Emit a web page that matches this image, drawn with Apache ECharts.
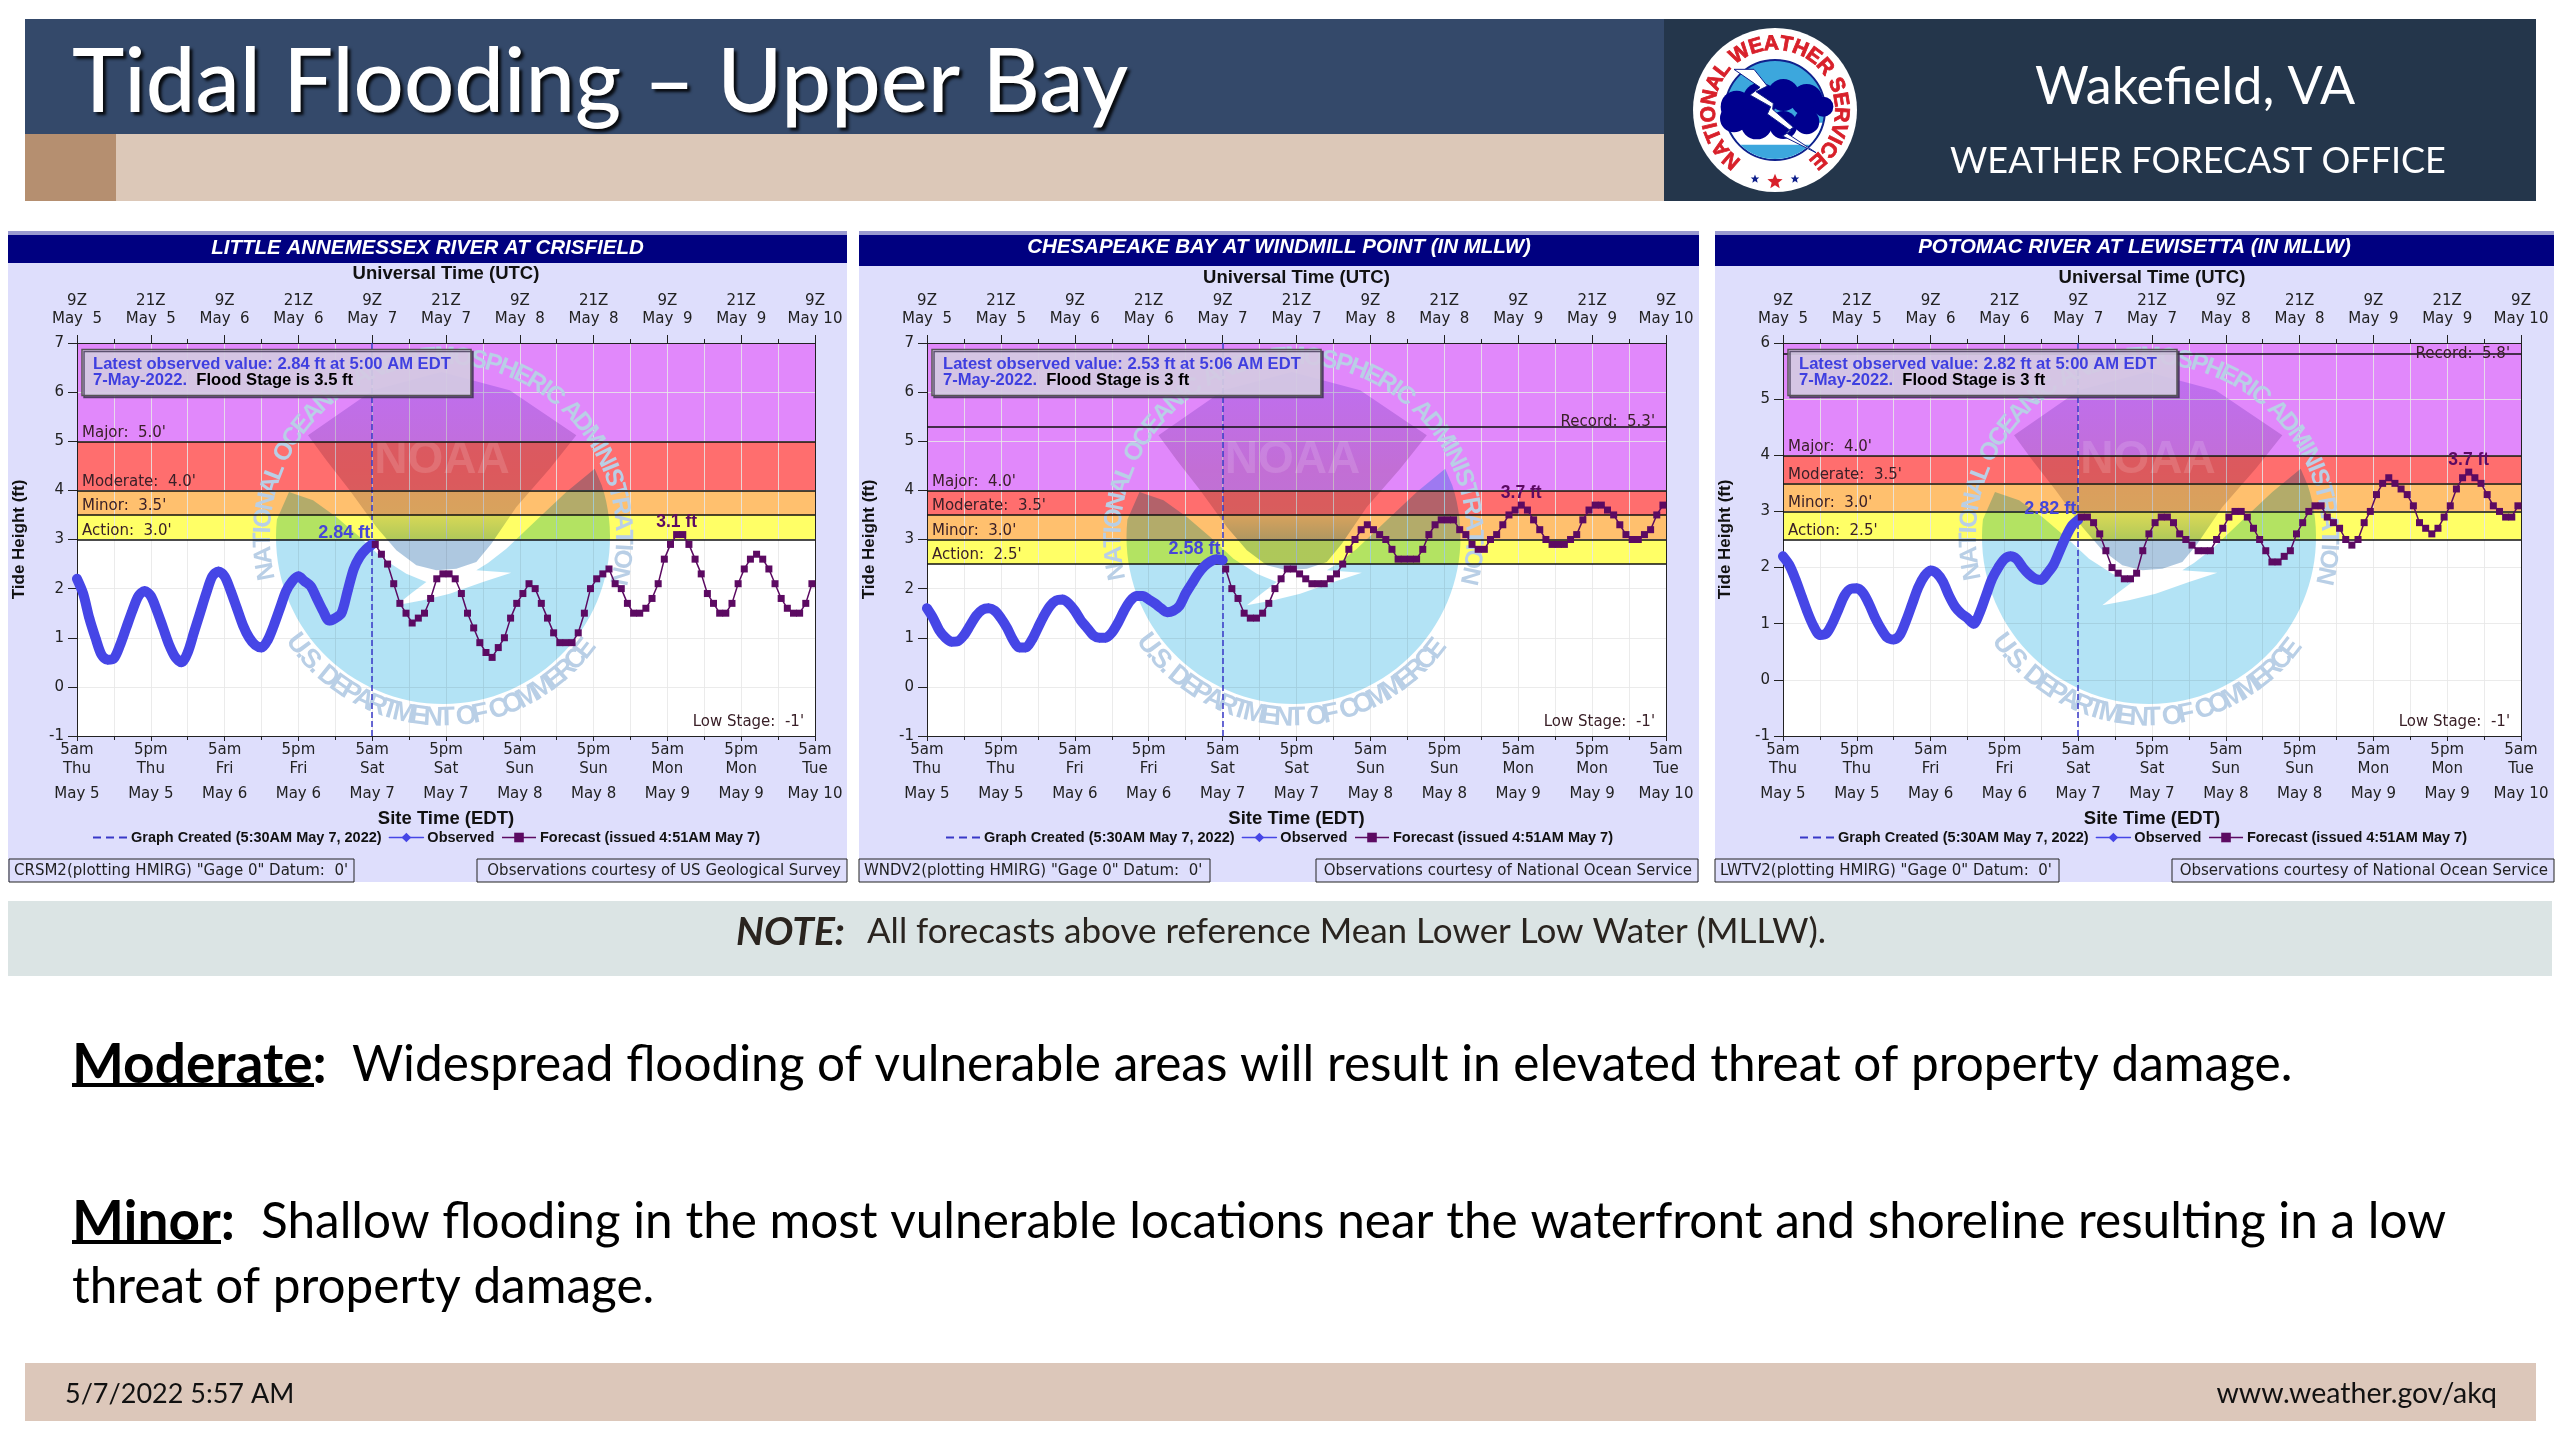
<!DOCTYPE html>
<html><head><meta charset="utf-8">
<style>html,body{margin:0;padding:0;background:#fff}#c{width:2560px;height:1440px}</style>
<script src="https://cdn.jsdelivr.net/npm/echarts@6/dist/echarts.min.js"></script>
</head><body><div id="c"></div>
<script>
// ---- data ----
const observedHours=[0,1,2,3,4,5,6,7,8,9,10,11,12,13,14,15,16,17,18,19,20,21,22,23,24,25,26,27,28,29,30,31,32,33,34,35,36,37,38,39,40,41,42,43,44,45,46,47,48];
const forecastHours=[48.5,49.5,50.5,51.5,52.5,53.5,54.5,55.5,56.5,57.5,58.5,59.5,60.5,61.5,62.5,63.5,64.5,65.5,66.5,67.5,68.5,69.5,70.5,71.5,72.5,73.5,74.5,75.5,76.5,77.5,78.5,79.5,80.5,81.5,82.5,83.5,84.5,85.5,86.5,87.5,88.5,89.5,90.5,91.5,92.5,93.5,94.5,95.5,96.5,97.5,98.5,99.5,100.5,101.5,102.5,103.5,104.5,105.5,106.5,107.5,108.5,109.5,110.5,111.5,112.5,113.5,114.5,115.5,116.5,117.5,118.5,119.5];

const observedCrisfield=[2.2,1.9,1.4,1.0,0.65,0.55,0.58,0.85,1.2,1.55,1.85,1.95,1.85,1.55,1.2,0.85,0.6,0.5,0.7,1.1,1.5,1.9,2.25,2.35,2.25,1.95,1.6,1.25,1.0,0.85,0.8,0.95,1.25,1.6,1.95,2.15,2.25,2.15,2.05,1.8,1.55,1.35,1.4,1.5,1.95,2.4,2.65,2.8,2.9];
const observedWindmill=[1.6,1.4,1.15,1.0,0.92,0.93,1.05,1.25,1.45,1.57,1.6,1.55,1.4,1.2,0.95,0.8,0.8,0.95,1.2,1.45,1.65,1.76,1.78,1.7,1.55,1.35,1.2,1.05,1.0,1.0,1.1,1.3,1.55,1.75,1.85,1.85,1.78,1.7,1.6,1.52,1.55,1.65,1.9,2.1,2.3,2.45,2.55,2.6,2.58];
const observedLewisetta=[2.2,2.05,1.8,1.5,1.2,0.95,0.8,0.82,1.0,1.25,1.5,1.62,1.63,1.55,1.35,1.1,0.9,0.75,0.72,0.8,1.05,1.35,1.65,1.85,1.95,1.9,1.75,1.5,1.3,1.18,1.1,1.0,1.2,1.5,1.8,2.0,2.15,2.2,2.15,2.0,1.88,1.8,1.78,1.9,2.05,2.3,2.55,2.75,2.85];

const forecastCrisfield=[2.9,2.7,2.5,2.1,1.7,1.5,1.3,1.4,1.5,1.8,2.2,2.3,2.3,2.2,1.9,1.5,1.2,0.9,0.7,0.6,0.8,1.0,1.4,1.7,1.9,2.1,2.0,1.7,1.4,1.1,0.9,0.9,0.9,1.1,1.5,2.0,2.2,2.3,2.4,2.1,2.0,1.7,1.5,1.5,1.6,1.8,2.1,2.6,2.9,3.1,3.1,2.9,2.6,2.3,1.9,1.7,1.5,1.5,1.7,2.1,2.4,2.6,2.7,2.6,2.4,2.1,1.8,1.6,1.5,1.5,1.7,2.1];
const forecastWindmill=[2.4,2.0,1.8,1.5,1.4,1.4,1.5,1.7,2.0,2.2,2.4,2.4,2.3,2.2,2.1,2.1,2.1,2.2,2.3,2.5,2.8,3.0,3.2,3.3,3.2,3.1,3.0,2.8,2.6,2.6,2.6,2.6,2.8,3.1,3.3,3.4,3.4,3.4,3.2,3.1,2.9,2.8,2.8,3.0,3.1,3.3,3.5,3.6,3.7,3.6,3.4,3.2,3.0,2.9,2.9,2.9,3.0,3.1,3.4,3.6,3.7,3.7,3.6,3.5,3.3,3.1,3.0,3.0,3.1,3.2,3.5,3.7];
const forecastLewisetta=[2.9,2.9,2.8,2.6,2.3,2.0,1.9,1.8,1.8,1.9,2.3,2.6,2.8,2.9,2.9,2.8,2.6,2.5,2.4,2.3,2.3,2.3,2.5,2.7,2.9,3.0,3.0,2.9,2.7,2.5,2.3,2.1,2.1,2.2,2.3,2.6,2.8,3.0,3.1,3.1,2.9,2.8,2.7,2.5,2.4,2.5,2.8,3.0,3.3,3.5,3.6,3.5,3.4,3.3,3.1,2.8,2.7,2.6,2.7,2.9,3.1,3.4,3.6,3.7,3.6,3.5,3.3,3.1,3.0,2.9,2.9,3.1];

const stationTitles=["LITTLE ANNEMESSEX RIVER AT CRISFIELD","CHESAPEAKE BAY AT WINDMILL POINT (IN MLLW)","POTOMAC RIVER AT LEWISETTA (IN MLLW)"];
const yAxisMax=[7,7,6];
const actionStage=[3.0,2.5,2.5];
const minorStage=[3.5,3.0,3.0];
const moderateStage=[4.0,3.5,3.5];
const majorStage=[5.0,4.0,4.0];
const recordStage=[null,5.3,5.8];
const latestObserved=["2.84 ft at 5:00 AM EDT","2.53 ft at 5:06 AM EDT","2.82 ft at 5:00 AM EDT"];
const floodStageText=["Flood Stage is 3.5 ft","Flood Stage is 3 ft","Flood Stage is 3 ft"];
const observedCallout=["2.84 ft","2.58 ft","2.82 ft"];
const observedCalloutY=[2.9,2.58,2.85];
const forecastCallout=["3.1 ft","3.7 ft","3.7 ft"];
const forecastCalloutHour=[97.5,96.5,111.5];
const forecastCalloutY=[3.1,3.7,3.7];
const gageText=['CRSM2(plotting HMIRG) "Gage 0" Datum:  0\'','WNDV2(plotting HMIRG) "Gage 0" Datum:  0\'','LWTV2(plotting HMIRG) "Gage 0" Datum:  0\''];
const courtesyText=["Observations courtesy of US Geological Survey","Observations courtesy of National Ocean Service","Observations courtesy of National Ocean Service"];
const topTickLabels=["9Z\nMay  5","21Z\nMay  5","9Z\nMay  6","21Z\nMay  6","9Z\nMay  7","21Z\nMay  7","9Z\nMay  8","21Z\nMay  8","9Z\nMay  9","21Z\nMay  9","9Z\nMay 10"];
const bottomTickTimes=["5am","5pm","5am","5pm","5am","5pm","5am","5pm","5am","5pm","5am"];
const bottomTickDays=["Thu","Thu","Fri","Fri","Sat","Sat","Sun","Sun","Mon","Mon","Tue"];
const bottomTickDates=["May 5","May 5","May 6","May 6","May 7","May 7","May 8","May 8","May 9","May 9","May 10"];
const graphCreatedHour=48;
const legendCreated="Graph Created (5:30AM May 7, 2022)";
const legendObserved="Observed";
const legendForecast="Forecast (issued 4:51AM May 7)";

// ---- layout ----
const observedSeries=[observedCrisfield,observedWindmill,observedLewisetta];
const forecastSeries=[forecastCrisfield,forecastWindmill,forecastLewisetta];
const plotLeft=[77,927,1783], plotWidth=[738,739,738], plotTop=343, plotHeight=393;
const panelLeft=[8,859,1715], panelRight=[847,1699,2554];
const legendLeft=[88,941,1795];
const gageBox=[[9,354],[859,1210],[1715,2059]];
const courtesyBox=[[477,847],[1316,1698],[2172,2554]];
const barBottom=[263,266,266], barText=[248,247,247], utcGap=[60,56,56];

const SANS='"Liberation Sans",Arial,sans-serif', DJ='"DejaVu Sans",sans-serif', GILL='Lato,"Open Sans",sans-serif';
const Z=5, TXTZ=12;
const g=[];
const rect=(x,y,w,h,fill,z,extra)=>g.push(Object.assign({type:'rect',silent:true,z:z||0,shape:{x,y,width:w,height:h},style:{fill}},extra||{}));
const text=(x,y,t,font,fill,align,z,extraStyle)=>g.push({type:'text',silent:true,z:z||1,x,y,style:Object.assign({text:t,font,fill,align:align||'left',verticalAlign:'middle'},extraStyle||{})});
const arcPts=(cx,cy,r,a0,a1,n)=>{const p=[];for(let i=0;i<=n;i++){const a=(a0+(a1-a0)*i/n)*Math.PI/180;p.push([cx+r*Math.sin(a),cy-r*Math.cos(a)]);}return p;};
const mctx=document.createElement('canvas').getContext('2d');
function ring(str,cx,cy,r,th0,th1,font,fill,z,blend,bottom,extra){
  mctx.font=font;
  const ws=[...str].map(c=>mctx.measureText(c).width);
  const tot=ws.reduce((a,b)=>a+b,0);let acc=0;
  [...str].forEach((c,i)=>{
    const th=th0+(th1-th0)*(acc+ws[i]/2)/tot;acc+=ws[i];
    if(c===' ')return;
    const a=th*Math.PI/180;
    const rot=bottom?-(a-Math.PI):-a;
    const st=Object.assign({text:c,font,fill,align:'center',verticalAlign:'middle'},extra||{});
    if(blend)st.blend=blend;
    g.push({type:'text',silent:true,z,x:cx+r*Math.sin(a),y:cy-r*Math.cos(a),rotation:rot,style:st});
  });
}

// ---- slide furniture ----
rect(25,19,1640,115,'#34496a',0);
rect(25,134,1640,67,'#dcc8b8',0);
rect(25,134,91,67,'#b58f70',0);
rect(1664,19,872,182,'#24364b',0);
text(72,83,'Tidal Flooding – Upper Bay','500 88.5px '+GILL,'#ffffff','left',1,{textShadowColor:'rgba(0,0,0,0.85)',textShadowBlur:3,textShadowOffsetX:3,textShadowOffsetY:3});
text(2195,87,'Wakefield, VA','400 52px '+GILL,'#ffffff','center',1);
text(2198,161,'WEATHER FORECAST OFFICE','400 36px '+GILL,'#ffffff','center',1);
// NWS emblem
(function(){
  const cx=1775,cy=110,k=1/3,X=v=>cx+(v-345)*k,Y=v=>cy+(v-300)*k;
  g.push({type:'circle',silent:true,z:1,shape:{cx,cy,r:82},style:{fill:'#ffffff'}});
  g.push({type:'circle',silent:true,z:2,shape:{cx,cy,r:50},style:{fill:'#3ca7dd',stroke:'#10208c',lineWidth:2}});
  g.push({type:'polygon',silent:true,z:2,shape:{points:arcPts(cx,cy,49,105,255,24)},style:{fill:'#ffffff'}});
  g.push({type:'polygon',silent:true,z:2,shape:{points:arcPts(cx,cy,49,135,225,16)},style:{fill:'#3ca7dd'}});
  [[230,290,48],[300,270,52],[370,255,48],[440,270,48],[490,290,30],[222,325,42],[290,340,48],[370,345,42],[440,335,38]].forEach(c=>
    g.push({type:'circle',silent:true,z:3,shape:{cx:X(c[0]),cy:Y(c[1]),r:c[2]*k},style:{fill:'#00008e'}}));
  const bolt=[[222,178],[282,178],[322,228],[288,245],[340,280],[338,298],[400,352],[378,368],[468,428],[368,378],[392,362],[322,312],[332,290],[270,255],[300,232]];
  g.push({type:'polygon',silent:true,z:4,shape:{points:bolt.map(p=>[X(p[0]),Y(p[1])])},style:{fill:'#ffffff',stroke:'#10208c',lineWidth:1}});
  ring('NATIONAL WEATHER SERVICE',cx,cy,66,-146,146,'900 21px '+SANS,'#d8202a',5,null,false,{stroke:'#d8202a',lineWidth:0.8});
  g.push({type:'polygon',silent:true,z:5,shape:{points:[0,1,2,3,4,5,6,7,8,9].map(i=>{const r=i%2?3.5:8,a=i*36*Math.PI/180;return[cx+r*Math.sin(a),Y(515)-r*Math.cos(a)];})},style:{fill:'#d8202a'}});
  [-20,20].forEach(d=>g.push({type:'polygon',silent:true,z:5,shape:{points:[0,1,2,3,4,5,6,7,8,9].map(i=>{const r=i%2?2:4.5,a=i*36*Math.PI/180;return[cx+d+r*Math.sin(a),Y(507)-r*Math.cos(a)];})},style:{fill:'#10208c'}}));
})();

// note & body
rect(8,901,2544,75,'#dbe4e4',0);
text(736,932,'NOTE:','italic 700 39px '+GILL,'#2a241f','left',1);
text(867,932,'All forecasts above reference Mean Lower Low Water (MLLW).','400 35px '+GILL,'#2a241f','left',1);
text(72,1065,'Moderate:','700 55px '+GILL,'#000','left',1);
text(352,1065,'Widespread flooding of vulnerable areas will result in elevated threat of property damage.','400 49.5px '+GILL,'#000','left',1);
rect(72,1083,242,4,'#000',1);
text(72,1222,'Minor:','700 55px '+GILL,'#000','left',1);
text(261,1222,'Shallow flooding in the most vulnerable locations near the waterfront and shoreline resulting in a low','400 49.5px '+GILL,'#000','left',1);
rect(72,1240,149,4,'#000',1);
text(72,1287,'threat of property damage.','400 49.5px '+GILL,'#000','left',1);
rect(25,1363,2511,58,'#dcc7ba',0);
text(65,1394,'5/7/2022 5:57 AM','400 27px '+GILL,'#111','left',1);
text(2497,1394,'www.weather.gov/akq','400 28.5px '+GILL,'#111','right',1);

// ---- chart furniture per panel ----
function noaa(cx,cy){
  const L=p=>[cx+(p[0]-580)/3,cy+(p[1]-590)/3];
  const arc=arcPts(cx,cy,167,276,72,70);
  const blue=arc.concat([[1035,385],[950,455],[860,540],[770,625],[715,668],[680,690],[785,697],[700,725],[600,760],[520,780],[440,795],[490,755],[530,725],[470,700],[400,655],[330,590],[260,530],[190,480],[118,455]].map(L));
  g.push({type:'polygon',silent:true,z:Z,shape:{points:blue},style:{fill:'#b3e3f5',blend:'multiply'}});
  const dia=[[175,285],[370,150],[575,95],[780,150],[980,285],[900,385],[800,500],[725,610],[680,665],[620,685],[560,690],[500,675],[440,630],[380,560],[300,450],[230,360]].map(L);
  g.push({type:'polygon',silent:true,z:Z,shape:{points:dia},style:{blend:'multiply',fill:new echarts.graphic.LinearGradient(0,0,0,1,[{offset:0,color:'#d8cff6'},{offset:0.5,color:'#dccfd8'},{offset:0.72,color:'#d8d8d8'},{offset:0.85,color:'#aec8e0'},{offset:1,color:'#aec8e0'}])}});
  g.push({type:'text',silent:true,z:Z+1,x:cx-1,y:cy-77,style:{text:'NOAA',font:'700 46px '+SANS,fill:'rgba(255,255,255,0.14)',align:'center',verticalAlign:'middle'}});
  ring('NATIONAL OCEANIC AND ATMOSPHERIC ADMINISTRATION',cx,cy,180,-103.5,105,'700 25px '+SANS,'#b9cfe6',Z,'multiply',false);
  ring('U.S. DEPARTMENT OF COMMERCE',cx,cy,181,236,126,'700 27px '+SANS,'#b9cfe6',Z,'multiply',true);
}
stationTitles.forEach((t,i)=>{
  const pl=panelLeft[i],pr=panelRight[i];
  rect(pl,231,pr-pl,651,'#dedefc',-1);
  rect(pl,231,pr-pl,barBottom[i]-231,'#000080',-1);
  rect(pl,231,pr-pl,4,'#9a9ad0',-1);
  text((pl+pr)/2,barText[i],t,'italic 700 20.5px '+SANS,'#ffffff','center',1);
  noaa(plotLeft[i]+plotWidth[i]/2-3,plotTop+plotHeight/2-2.5);
  // info box
  const bx=plotLeft[i]+5,by=349.5,bw=389,bh=46;
  g.push({type:'rect',silent:true,z:TXTZ,shape:{x:bx,y:by,width:bw,height:bh},style:{fill:'rgba(236,226,250,0.8)',stroke:'#555',lineWidth:1.5,shadowColor:'rgba(60,50,80,0.8)',shadowBlur:0,shadowOffsetX:2,shadowOffsetY:2}});
  g.push({type:'text',silent:true,z:TXTZ+1,x:bx+11,y:by+23,style:{text:'{u|Latest observed value: '+latestObserved[i]+'}\n{u|7-May-2022.}{k|  '+floodStageText[i]+'}',verticalAlign:'middle',
    rich:{u:{font:'700 16.6px '+SANS,fill:'#3f3fe0',lineHeight:16},k:{font:'700 16.6px '+SANS,fill:'#000',lineHeight:16}}}});
  // footers
  const gb=gageBox[i],cb=courtesyBox[i];
  g.push({type:'rect',silent:true,z:1,shape:{x:gb[0],y:859,width:gb[1]-gb[0],height:23},style:{fill:'#dedefc',stroke:'#222',lineWidth:1}});
  text(gb[0]+5,871,gageText[i],'400 15px '+DJ,'#222','left',2);
  g.push({type:'rect',silent:true,z:1,shape:{x:cb[0],y:859,width:cb[1]-cb[0],height:23},style:{fill:'#dedefc',stroke:'#222',lineWidth:1}});
  text(cb[1]-6,871,courtesyText[i],'400 15px '+DJ,'#222','right',2);
});
rect(0,882,2560,8,'#ffffff',0);

// ---- echarts scales ----
const grids=[],xAxes=[],yAxes=[],series=[],legends=[];
const gridLine={show:true,lineStyle:{color:'rgba(232,232,232,0.85)',width:1}};
const axisFont={fontFamily:DJ,fontSize:15,color:'#222'};
const nameFont={fontFamily:SANS,fontWeight:'bold',fontSize:18.5,color:'#111'};
stationTitles.forEach((t,i)=>{
  grids.push({left:plotLeft[i],top:plotTop,width:plotWidth[i],height:plotHeight,show:true,backgroundColor:'#ffffff',borderWidth:0,containLabel:false});
  const xb={type:'value',gridIndex:i,min:0,max:120,interval:12,z:4,
    axisLine:{show:true,onZero:false,lineStyle:{color:'#222',width:1}},
    splitLine:gridLine,
    minorTick:{show:true,splitNumber:2,length:4,lineStyle:{color:'#222'}},
    minorSplitLine:{show:true,lineStyle:{color:'rgba(232,232,232,0.85)',width:1}}};
  xAxes.push(Object.assign({},xb,{position:'bottom',name:'Site Time (EDT)',nameLocation:'middle',nameGap:73,
    nameTextStyle:nameFont,
    axisTick:{show:true,length:5,lineStyle:{color:'#222'}},
    axisLabel:{margin:5,interval:0,hideOverlap:false,formatter:v=>{const k=v/12;return '{a|'+bottomTickTimes[k]+'}\n{a|'+bottomTickDays[k]+'}\n{b|'+bottomTickDates[k]+'}';},
      rich:{a:Object.assign({lineHeight:19},axisFont),b:Object.assign({lineHeight:31},axisFont)}}}));
  xAxes.push(Object.assign({},xb,{position:'top',name:'Universal Time (UTC)',nameLocation:'middle',nameGap:utcGap[i],
    nameTextStyle:nameFont,
    splitLine:{show:false},minorSplitLine:{show:false},
    axisTick:{show:true,length:8,lineStyle:{color:'#222'}},
    axisLabel:Object.assign({margin:15,lineHeight:18,formatter:v=>topTickLabels[v/12]},axisFont)}));
  const yb={type:'value',gridIndex:i,min:-1,max:yAxisMax[i],interval:1,z:4};
  yAxes.push(Object.assign({},yb,{position:'left',name:'Tide Height (ft)',nameLocation:'middle',nameGap:49,
    nameTextStyle:{fontFamily:SANS,fontWeight:'bold',fontSize:17,color:'#111'},
    axisLine:{show:true,onZero:false,lineStyle:{color:'#222'}},axisTick:{show:true,length:9,lineStyle:{color:'#222'}},
    axisLabel:Object.assign({margin:13},axisFont),splitLine:gridLine}));
  yAxes.push(Object.assign({},yb,{position:'right',axisLine:{show:true,onZero:false,lineStyle:{color:'#222'}},axisTick:{show:false},axisLabel:{show:false},splitLine:{show:false}}));
  const xi=i*2,yi=i*2;
  const lab=(txt,pos,off)=>({show:true,formatter:txt,position:pos,offset:off||[0,0],fontFamily:DJ,fontSize:15,color:'#3a2028',distance:3});
  const levelLines=[
    {yAxis:actionStage[i],label:lab("Action:  "+actionStage[i].toFixed(1)+"'",'insideStartTop',[2,2])},
    {yAxis:minorStage[i],label:lab("Minor:  "+minorStage[i].toFixed(1)+"'",'insideStartTop',[2,2])},
    {yAxis:moderateStage[i],label:lab("Moderate:  "+moderateStage[i].toFixed(1)+"'",'insideStartTop',[2,2])},
    {yAxis:majorStage[i],label:lab("Major:  "+majorStage[i].toFixed(1)+"'",'insideStartTop',[2,2])},
    {yAxis:-1,lineStyle:{color:'#222',width:1},label:lab("Low Stage:  -1'",'insideEndTop',[-8,-3])}];
  if(recordStage[i]!==null) levelLines.push({yAxis:recordStage[i],label:lab("Record:  "+recordStage[i].toFixed(1)+"'",'insideEndTop',i==2?[-8,10]:[-8,6])});
  series.push({name:legendCreated,type:'line',xAxisIndex:xi,yAxisIndex:yi,data:[],symbol:'none',z:9,silent:true,
    lineStyle:{color:'#3838c8',type:'dashed',width:1.5},itemStyle:{color:'#3838c8'},
    markArea:{silent:true,z:1,itemStyle:{opacity:1},data:[
      [{yAxis:actionStage[i],itemStyle:{color:'#ffff66'}},{yAxis:minorStage[i]}],
      [{yAxis:minorStage[i],itemStyle:{color:'#ffc06e'}},{yAxis:moderateStage[i]}],
      [{yAxis:moderateStage[i],itemStyle:{color:'#ff6e6e'}},{yAxis:majorStage[i]}],
      [{yAxis:majorStage[i],itemStyle:{color:'#e188fb'}},{yAxis:yAxisMax[i]}]]},
    markLine:{silent:true,z:9,symbol:'none',animation:false,lineStyle:{color:'#3838c8',type:'dashed',width:1.5},label:{show:false},
      data:[{xAxis:graphCreatedHour}]}});
  series.push({name:'levels'+i,type:'line',xAxisIndex:xi,yAxisIndex:yi,data:[],symbol:'none',z:9,silent:true,
    markLine:{silent:true,z:9,symbol:'none',animation:false,lineStyle:{color:'#111',type:'solid',width:1.5},data:levelLines}});
  series.push({name:legendObserved,type:'line',xAxisIndex:xi,yAxisIndex:yi,z:10,silent:true,
    data:observedHours.map((h,k)=>[h,observedSeries[i][k]]),smooth:0.3,symbol:'diamond',symbolSize:10,showSymbol:true,
    lineStyle:{color:'#4646e6',width:10,cap:'round',join:'round'},itemStyle:{color:'#4646e6'},
    markPoint:{silent:true,symbol:'circle',symbolSize:0,z:11,data:[{coord:[graphCreatedHour,observedCalloutY[i]],value:observedCallout[i],
      label:{show:true,formatter:observedCallout[i],position:'top',distance:2,offset:[-28,0],fontFamily:SANS,fontWeight:'bold',fontSize:18,color:'#4646d8'}}]}});
  series.push({name:legendForecast,type:'line',xAxisIndex:xi,yAxisIndex:yi,z:10,silent:true,
    data:forecastHours.map((h,k)=>[h,forecastSeries[i][k]]),symbol:'rect',symbolSize:7,
    lineStyle:{color:'#5c0a62',width:1.5},itemStyle:{color:'#5c0a62'},
    markPoint:{silent:true,symbol:'circle',symbolSize:0,z:11,data:[{coord:[forecastCalloutHour[i],forecastCalloutY[i]],value:forecastCallout[i],
      label:{show:true,formatter:forecastCallout[i],position:'top',distance:3,fontFamily:SANS,fontWeight:'bold',fontSize:17.5,color:'#5c0a62'}}]}});
  legends.push({left:legendLeft[i],top:825,orient:'horizontal',selectedMode:false,itemWidth:34,itemHeight:12,itemGap:7,
    data:[{name:legendCreated,icon:'path://M0,5h8v2h-8zM13,5h8v2h-8zM26,5h8v2h-8z'},{name:legendObserved},{name:legendForecast}],lineStyle:{width:1.5},
    textStyle:{fontFamily:SANS,fontWeight:'bold',fontSize:14.5,color:'#111',padding:[0,0,0,-1]}});
});
const chart=echarts.init(document.getElementById('c'),null,{renderer:'canvas',width:2560,height:1440});
chart.setOption({animation:false,backgroundColor:'#ffffff',tooltip:{show:false},grid:grids,xAxis:xAxes,yAxis:yAxes,series,legend:legends,graphic:{elements:g}});
</script></body></html>
